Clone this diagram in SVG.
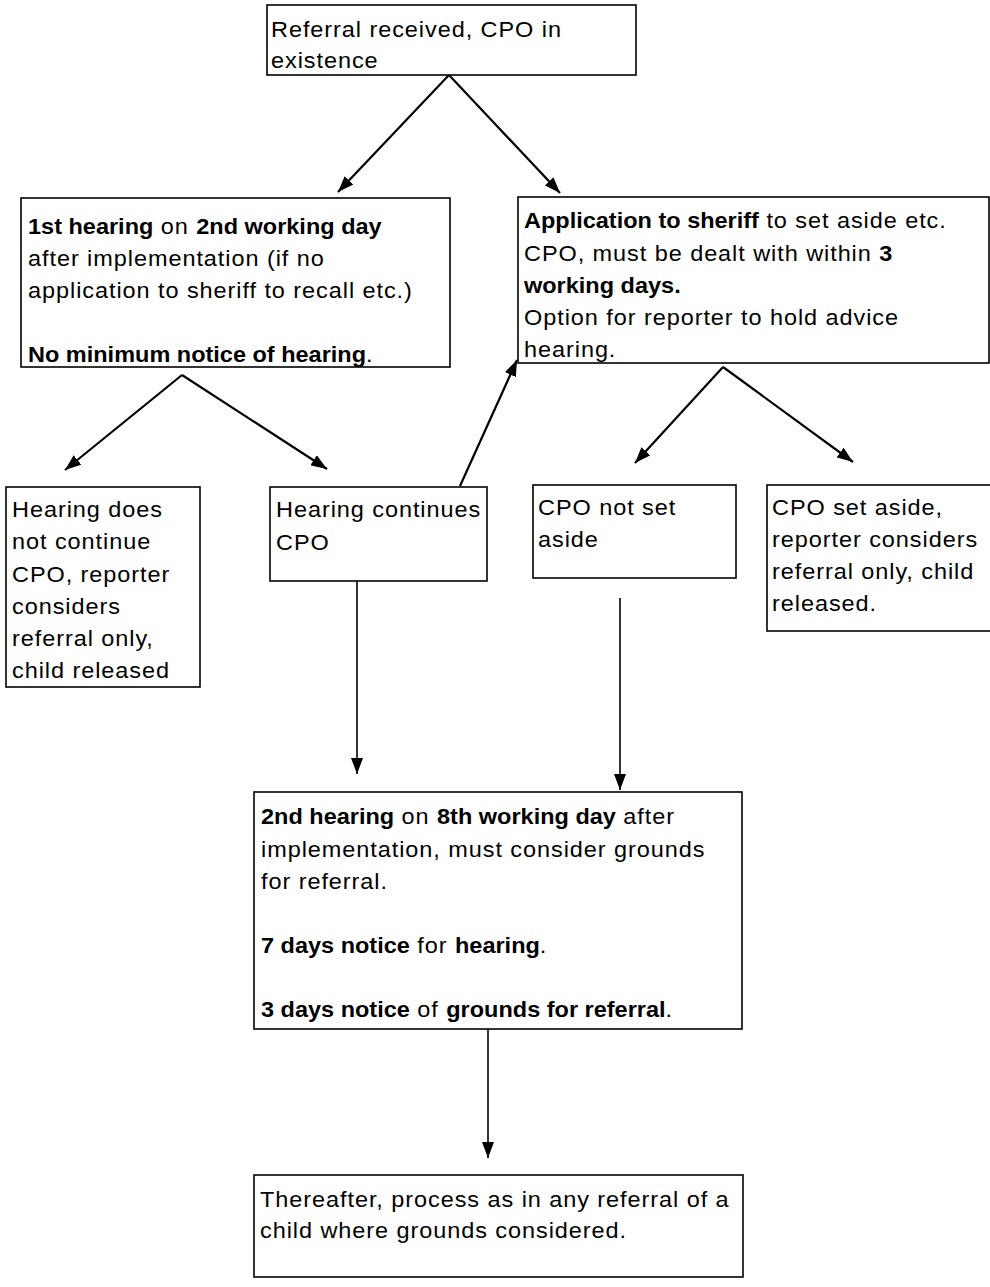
<svg xmlns="http://www.w3.org/2000/svg" width="990" height="1287" viewBox="0 0 990 1287">
<style>
.box{fill:#fff;stroke:#000;stroke-width:1.6}
.t{font-family:"Liberation Sans",Arial,Helvetica,sans-serif;font-size:21.5px;fill:#000;letter-spacing:0.85px}
.b{font-weight:bold;letter-spacing:0}
.c{fill:none;stroke:#000;stroke-width:2.2}
.v{fill:none;stroke:#000;stroke-width:1.6}
</style>
<defs>
<marker id="ah" markerWidth="16" markerHeight="12" refX="16" refY="6" orient="auto" markerUnits="userSpaceOnUse">
<path d="M0,0 L16,6 L0,12 z" fill="#000"/>
</marker>
</defs>
<rect width="990" height="1287" fill="#fff"/>
<g id="connectors">
<path class="c" d="M449,75 L338,192" marker-end="url(#ah)"/>
<path class="c" d="M449,75 L560,193" marker-end="url(#ah)"/>
<path class="c" d="M182,375 L65,470" marker-end="url(#ah)"/>
<path class="c" d="M182,375 L327,469" marker-end="url(#ah)"/>
<path class="c" d="M460,486 L517,360" marker-end="url(#ah)"/>
<path class="c" d="M723,367 L635,463" marker-end="url(#ah)"/>
<path class="c" d="M723,367 L853,462" marker-end="url(#ah)"/>
<path class="v" d="M357,581 L357,774" marker-end="url(#ah)"/>
<path class="v" d="M620,598 L620,790" marker-end="url(#ah)"/>
<path class="v" d="M488,1029 L488,1158" marker-end="url(#ah)"/>
</g>
<g id="n-referral">
<rect class="box" x="267" y="5" width="369" height="70"/>
<text class="t" transform="translate(271 0) scale(1.093 1)"><tspan x="0" y="37">Referral received, CPO in</tspan><tspan x="0" y="68">existence</tspan></text>
</g>
<g id="n-first-hearing">
<rect class="box" x="21" y="198" width="429" height="169"/>
<text class="t" transform="translate(28 0) scale(1.093 1)"><tspan x="0" y="234"><tspan class="b">1st hearing</tspan> on <tspan class="b">2nd working day</tspan></tspan><tspan x="0" y="266">after implementation (if no</tspan><tspan x="0" y="298">application to sheriff to recall etc.)</tspan><tspan x="0" y="362"><tspan class="b">No minimum notice of hearing</tspan>.</tspan></text>
</g>
<g id="n-application">
<rect class="box" x="518" y="197" width="471" height="166"/>
<text class="t" transform="translate(524 0) scale(1.093 1)"><tspan x="0" y="228"><tspan class="b">Application to sheriff</tspan> to set aside etc.</tspan><tspan x="0" y="261">CPO, must be dealt with within <tspan class="b">3</tspan></tspan><tspan x="0" y="293" class="b">working days.</tspan><tspan x="0" y="325">Option for reporter to hold advice</tspan><tspan x="0" y="357">hearing.</tspan></text>
</g>
<g id="n-not-continue">
<rect class="box" x="6" y="487" width="194" height="200"/>
<text class="t" transform="translate(12 0) scale(1.093 1)"><tspan x="0" y="517">Hearing does</tspan><tspan x="0" y="549">not continue</tspan><tspan x="0" y="582">CPO, reporter</tspan><tspan x="0" y="614">considers</tspan><tspan x="0" y="646">referral only,</tspan><tspan x="0" y="678">child released</tspan></text>
</g>
<g id="n-continues">
<rect class="box" x="270" y="487" width="217" height="94"/>
<text class="t" transform="translate(276 0) scale(1.093 1)"><tspan x="0" y="517">Hearing continues</tspan><tspan x="0" y="550">CPO</tspan></text>
</g>
<g id="n-not-set-aside">
<rect class="box" x="533" y="485" width="203" height="93"/>
<text class="t" transform="translate(538 0) scale(1.093 1)"><tspan x="0" y="515">CPO not set</tspan><tspan x="0" y="547">aside</tspan></text>
</g>
<g id="n-set-aside">
<rect class="box" x="767" y="485" width="232" height="146"/>
<text class="t" transform="translate(772 0) scale(1.093 1)"><tspan x="0" y="515">CPO set aside,</tspan><tspan x="0" y="547">reporter considers</tspan><tspan x="0" y="579">referral only, child</tspan><tspan x="0" y="611">released.</tspan></text>
</g>
<g id="n-second-hearing">
<rect class="box" x="254" y="792" width="488" height="237"/>
<text class="t" transform="translate(261 0) scale(1.093 1)"><tspan x="0" y="824"><tspan class="b">2nd hearing</tspan> on <tspan class="b">8th working day</tspan> after</tspan><tspan x="0" y="857">implementation, must consider grounds</tspan><tspan x="0" y="889">for referral.</tspan><tspan x="0" y="953"><tspan class="b">7 days notice</tspan> for <tspan class="b">hearing</tspan>.</tspan><tspan x="0" y="1017"><tspan class="b">3 days notice</tspan> of <tspan class="b">grounds for referral</tspan>.</tspan></text>
</g>
<g id="n-thereafter">
<rect class="box" x="254" y="1175" width="489" height="102"/>
<text class="t" transform="translate(260 0) scale(1.093 1)"><tspan x="0" y="1207">Thereafter, process as in any referral of a</tspan><tspan x="0" y="1238">child where grounds considered.</tspan></text>
</g>
</svg>
